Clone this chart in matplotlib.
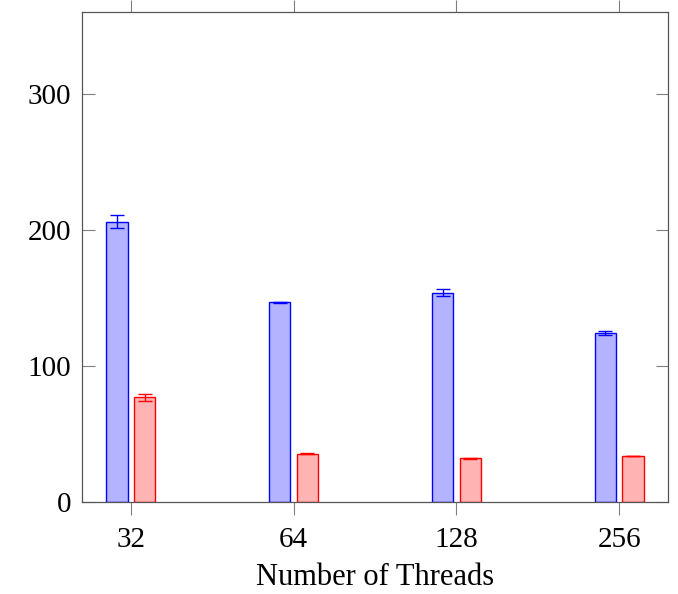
import matplotlib
matplotlib.use("Agg")
import matplotlib.pyplot as plt
import numpy as np

categories = ["32", "64", "128", "256"]
blue_vals = [206, 146.8, 153.7, 124]
blue_err = [5, 0.5, 2.6, 1.5]
red_vals = [77, 35.5, 32.1, 33.8]
red_err = [2.7, 0.3, 0.3, 0.3]
yticks = [0, 100, 200, 300]

plt.rcParams['font.family'] = ['Liberation Serif', 'DejaVu Serif']

fig = plt.figure(figsize=(6.78, 5.94), dpi=100)
ax = fig.add_axes([82/678, 92/594, 586/678, 490/594])

x = np.arange(len(categories))
w = 0.13
off = 0.085
ax.bar(x - off, blue_vals, w, color=(0.7, 0.7, 1.0), edgecolor=(0, 0, 1), linewidth=1.0,
       yerr=blue_err, error_kw=dict(ecolor=(0, 0, 1), capsize=5, elinewidth=1.0, capthick=1.0))
ax.bar(x + off, red_vals, w, color=(1.0, 0.7, 0.7), edgecolor=(1, 0, 0), linewidth=1.0,
       yerr=red_err, error_kw=dict(ecolor=(1, 0, 0), capsize=5, elinewidth=1.0, capthick=1.0))

ax.set_xlim(-0.3, 3.3)
ax.set_ylim(0, 360)
ax.set_xticks(x)
ax.set_xticklabels(categories)
ax.set_yticks(yticks)
ax.tick_params(axis='x', direction='out', top=True, bottom=True, length=9, width=0.8,
               color='#808080', labelsize=21, pad=9)
ax.tick_params(axis='y', direction='in', left=True, right=True, length=9, width=0.8,
               color='#808080', labelsize=21, pad=8)
for s in ax.spines.values():
    s.set_color('#555555')
    s.set_linewidth(0.9)
ax.set_xlabel("Number of Threads", fontsize=22, labelpad=7)

fig.savefig("out.png", dpi=100)
